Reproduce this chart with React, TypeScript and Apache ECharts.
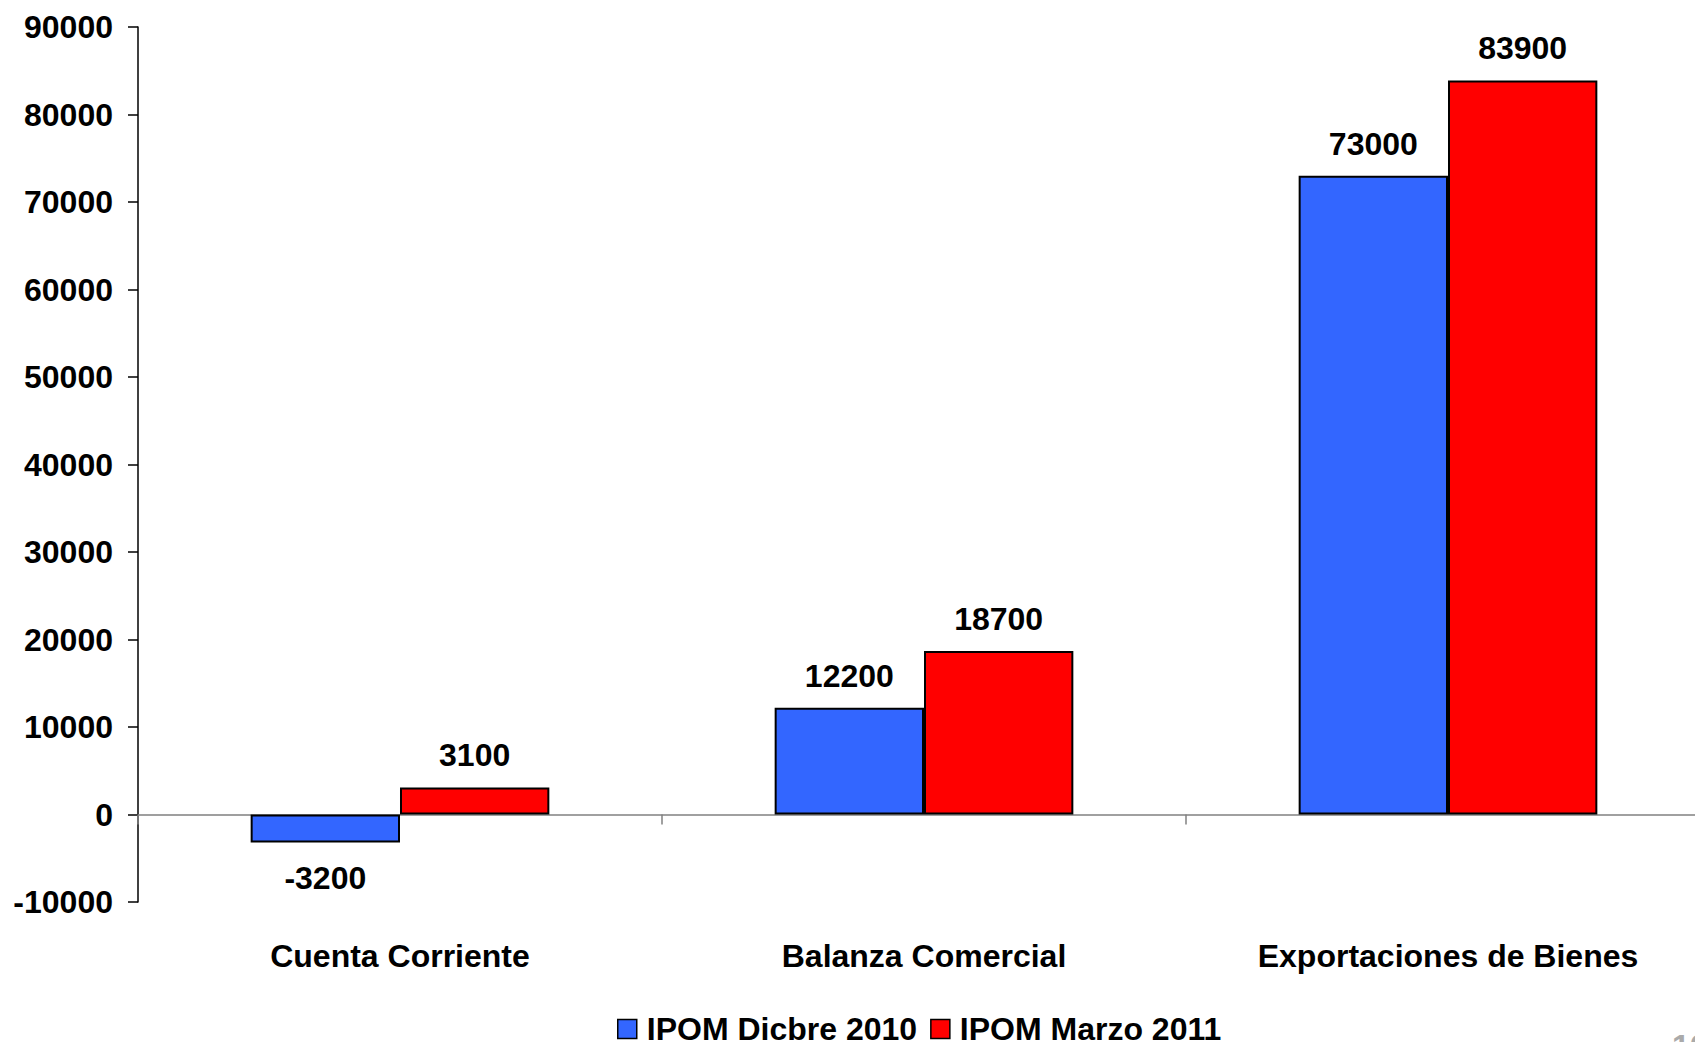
import React, { useEffect, useRef } from "react";
import * as echarts from "echarts";

const categories = ["Cuenta Corriente", "Balanza Comercial", "Exportaciones de Bienes"];
const seriesNames = ["IPOM Dicbre 2010", "IPOM Marzo 2011"];
const dicbre2010 = [-3200, 12200, 73000];
const marzo2011 = [3100, 18700, 83900];
const seriesColors = ["#3366FF", "#FF0000"];

const FONT = "'Liberation Sans', Arial, sans-serif";

export default function App() {
  const ref = useRef<HTMLDivElement>(null);
  useEffect(() => {
    if (!ref.current) return;
    const chart = echarts.init(ref.current, undefined, { renderer: "svg" });
    const mk = (name: string, vals: number[], color: string) => ({
      name,
      type: "bar",
      barGap: "0%",
      barCategoryGap: "43%",
      itemStyle: { color, borderColor: "#000", borderWidth: 2 },
      label: {
        show: true,
        color: "#000",
        fontFamily: FONT,
        fontWeight: "bold",
        fontSize: 32,
        distance: 16,
        formatter: (p: any) => String(p.value),
      },
      data: vals.map((v) => ({
        value: v,
        label: { position: v < 0 ? "bottom" : "top", distance: v < 0 ? 19 : 16 },
      })),
    });
    chart.setOption({
      animation: false,
      backgroundColor: "#fff",
      textStyle: { fontFamily: FONT },
      grid: {
        left: 138,
        top: 27,
        width: 1572,
        height: 875,
        containLabel: false,
        outerBoundsMode: "none",
      },
      legend: {
        data: seriesNames,
        left: 612,
        top: 1008,
        itemWidth: 19,
        itemHeight: 19,
        itemGap: 13,
        icon: "rect",
        itemStyle: { borderColor: "#000", borderWidth: 1.5 },
        textStyle: { fontFamily: FONT, fontWeight: "bold", fontSize: 32, color: "#000", padding: [0, 0, 0, 5] },
      },
      xAxis: {
        type: "category",
        data: categories,
        axisLine: { onZero: true, lineStyle: { color: "#808080", width: 1.5 } },
        axisTick: { show: true, length: 10, lineStyle: { color: "#808080", width: 1.5 } },
        axisLabel: {
          margin: 38,
          color: "#000",
          fontFamily: FONT,
          fontWeight: "bold",
          fontSize: 32,
        },
        splitLine: { show: false },
      },
      yAxis: {
        type: "value",
        min: -10000,
        max: 90000,
        interval: 10000,
        axisLine: { show: true, lineStyle: { color: "#000", width: 1.5 } },
        axisTick: { show: true, length: 10, lineStyle: { color: "#000", width: 1.5 } },
        axisLabel: {
          margin: 25,
          color: "#000",
          fontFamily: FONT,
          fontWeight: "bold",
          fontSize: 32,
          formatter: (v: number) => String(v),
        },
        splitLine: { show: false },
      },
      graphic: [
        {
          type: "text",
          left: 1672,
          top: 1030,
          style: { text: "10", fill: "#aaa", font: "bold 32px 'Liberation Sans', Arial" },
        },
      ],
      series: [
        mk(seriesNames[0], dicbre2010, seriesColors[0]),
        mk(seriesNames[1], marzo2011, seriesColors[1]),
      ],
    });
    return () => chart.dispose();
  }, []);
  return (
    <div
      ref={ref}
      style={{ position: "absolute", left: 0, top: 0, width: 1695, height: 1042 }}
    />
  );
}
